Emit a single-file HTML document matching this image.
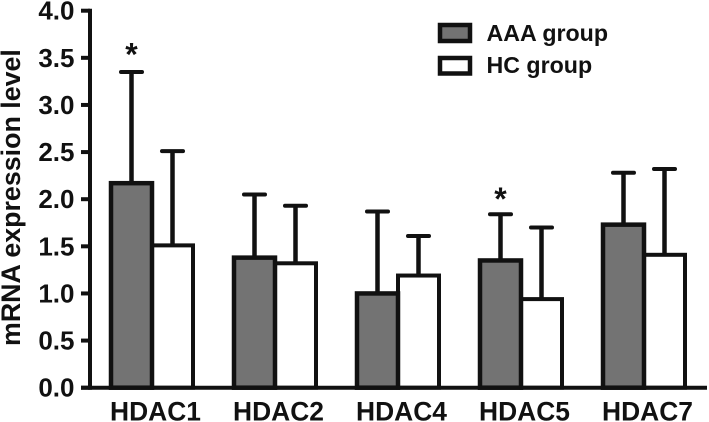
<!DOCTYPE html>
<html><head><meta charset="utf-8"><style>
html,body{margin:0;padding:0;background:#fff;width:709px;height:422px;overflow:hidden}
svg{display:block}
text{font-family:"Liberation Sans",sans-serif;font-weight:bold;fill:#111}
</style></head><body>
<svg id="chart" width="709" height="422" viewBox="0 0 709 422" xmlns="http://www.w3.org/2000/svg">
  <text transform="translate(20,346) rotate(-90)" font-size="26.8">mRNA expression level</text>
  <g>
    <rect x="440" y="25" width="30" height="16" fill="#737373" stroke="#111" stroke-width="4.5"/>
    <text x="486.5" y="41" font-size="23.2">AAA group</text>
    <rect x="440" y="58" width="30" height="15.5" fill="#fff" stroke="#111" stroke-width="4.5"/>
    <text x="486.5" y="73" font-size="23.2">HC group</text>
  </g>
</svg>
<script>
const categories = ["HDAC1", "HDAC2", "HDAC4", "HDAC5", "HDAC7"];
const aaaValues = [2.17, 1.38, 1.0, 1.35, 1.73];
const hcValues = [1.51, 1.32, 1.19, 0.94, 1.41];
const aaaErrorTops = [3.35, 2.05, 1.87, 1.84, 2.28];
const hcErrorTops = [2.51, 1.93, 1.61, 1.70, 2.32];
const starLevels = [3.42, null, null, 1.885, null];
const yTicks = ["0.0", "0.5", "1.0", "1.5", "2.0", "2.5", "3.0", "3.5", "4.0"];

const svg = document.getElementById('chart');
const NS = 'http://www.w3.org/2000/svg';
const y = v => 387.7 - v * 94.25;
const groupX = i => 111 + i * 123;
const barW = 41;
function add(tag, attrs, parent) {
  const e = document.createElementNS(NS, tag);
  for (const k in attrs) e.setAttribute(k, attrs[k]);
  (parent || svg).appendChild(e);
  return e;
}
function drawBar(i, val, top, offset, fill, sw, key) {
  const x = groupX(i) + offset;
  const cx = x + barW / 2;
  const stem = add('line', {x1: cx, x2: cx, y1: y(top), y2: y(val), stroke: '#111', 'stroke-width': 4.5});
  
  
  const cap = add('line', {x1: cx - 10.5, x2: cx + 10.5, y1: y(top), y2: y(top), stroke: '#111', 'stroke-width': 4, 'stroke-linecap': 'round'});
  
  
  const r = add('rect', {x: x, y: y(val), width: barW, height: y(0) - y(val), fill: fill, stroke: '#111', 'stroke-width': sw});
  
  
}
hcValues.forEach((v, i) => drawBar(i, v, hcErrorTops[i], barW, '#fff', 4, 'hc'));
aaaValues.forEach((v, i) => drawBar(i, v, aaaErrorTops[i], 0, '#737373', 4.5, 'aaa'));

const yAxis = add('line', {x1: 90, x2: 90, y1: y(4) - 2, y2: y(0) + 2, stroke: '#111', 'stroke-width': 4});


const xAxis = add('line', {x1: 81, x2: 707, y1: y(0), y2: y(0), stroke: '#111', 'stroke-width': 4});



yTicks.forEach(t => {
  const v = parseFloat(t);
  const tick = add('line', {x1: 81, x2: 90, y1: y(v), y2: y(v), stroke: '#111', 'stroke-width': 4});
  
  
  const label = add('text', {x: 74.5, y: y(v) + 9, 'text-anchor': 'end', 'font-size': 26});
  
  
  label.textContent = t;
});
categories.forEach((c, i) => {
  const label = add('text', {x: groupX(i) + 44.5, y: 420.5, 'text-anchor': 'middle', 'font-size': 26.4});
  
  
  label.textContent = c;
  if (starLevels[i] !== null) {
    const star = add('text', {x: groupX(i) + barW / 2, y: y(starLevels[i]), 'text-anchor': 'middle', 'font-size': 32});
    
    
    star.textContent = '*';
  }
});
</script>
</body></html>
